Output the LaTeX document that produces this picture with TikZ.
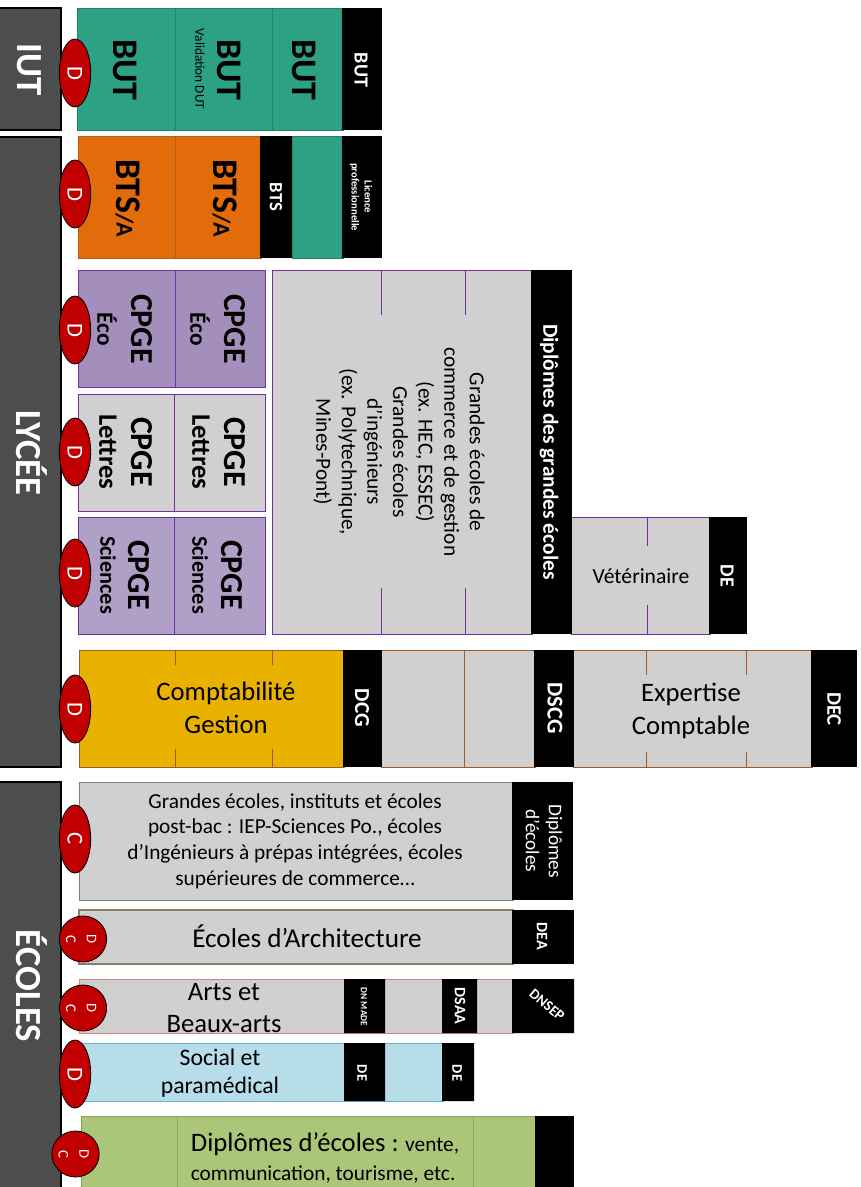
\documentclass[tikz,border=0pt]{standalone}
\usepackage{fontspec}
\usetikzlibrary{shapes.geometric}
\setmainfont{Carlito}
\definecolor{side}{HTML}{4D4D4D}
\definecolor{teal}{HTML}{2DA183}
\definecolor{tealdk}{HTML}{23806A}
\definecolor{orng}{HTML}{E36C0A}
\definecolor{orngdk}{HTML}{B45F14}
\definecolor{greyb}{HTML}{D0D0D0}
\definecolor{violetb}{HTML}{7030A0}
\definecolor{eco}{HTML}{A48FBC}
\definecolor{sci}{HTML}{B0A0C8}
\definecolor{gold}{HTML}{EAB200}
\definecolor{brwn}{HTML}{A5591C}
\definecolor{redb}{HTML}{C00000}
\definecolor{ltblue}{HTML}{B7DDE8}
\definecolor{blueb}{HTML}{5FB4CC}
\definecolor{grn}{HTML}{ABC678}
\definecolor{grndk}{HTML}{8AA552}
\definecolor{pinkb}{HTML}{D98080}
\definecolor{taupe}{HTML}{8C7B6B}
\newcommand{\fs}[1]{\fontsize{#1}{1.2\dimexpr#1pt\relax}\selectfont}
\tikzset{
  x=0.75pt,y=-0.75pt,
  sidebar/.style={fill=side,draw=black,line width=0.8pt},
  blk/.style={fill=black,draw=none},
  ovald/.style={ellipse,fill=redb,draw=black,line width=0.6pt,inner sep=0pt,text=white,
     minimum width=23.5pt,minimum height=51pt,font=\fs{17}},
  ovaldc/.style={ellipse,fill=redb,draw=black,line width=0.6pt,inner sep=0pt,text=white,
     minimum width=35.5pt,minimum height=34.5pt,font=\fs{11},align=center},
  vtxt/.style={rotate=-90,align=center,inner sep=0pt},
  bigb/.style={vtxt,font=\bfseries\fs{27}},
  whb/.style={vtxt,text=white,font=\bfseries\fs{15}},
  sidetxt/.style={vtxt,text=white,font=\bfseries\fs{27.6}},
  htxt/.style={align=center,inner sep=0pt},
  cp/.style={draw=violetb,line width=0.7pt},
  cb/.style={draw=brwn,line width=0.7pt},
}
\begin{document}
\begin{tikzpicture}
\useasboundingbox (0,0) rectangle (860,1187);
% sidebars
\draw[sidebar] (-2,8) rectangle (61,130);
\draw[sidebar] (-2,137) rectangle (61,767);
\draw[sidebar] (-2,782) rectangle (61,1190);
\node[sidetxt] (tiut) at (29,70) {IUT};
\node[sidetxt] (tlyc) at (32,453) {LYCÉE};
\node[sidetxt] (tecol) at (32,986) {ÉCOLES};
% BUT
\draw[fill=teal,draw=tealdk,line width=0.7pt] (77,8) rectangle (343,130);
\draw[tealdk,line width=0.7pt] (175,8)--(175,130) (272,8)--(272,130);
\fill[blk] (342,8) rectangle (382,130);
\node[bigb] (b1) at (125,70) {BUT};
\node[bigb] (b2) at (229.5,70) {BUT};
\node[vtxt,font=\fs{10}] (b2s) at (200,69) {Validation DUT};
\node[bigb] (b3) at (304,70) {BUT};
\node[whb] (b4) at (361,70) {BUT};
% BTS
\draw[fill=orng,draw=orngdk,line width=0.7pt] (78,136) rectangle (261,258);
\draw[orngdk,line width=0.7pt] (175,136)--(175,258);
\draw[fill=teal,draw=tealdk,line width=0.7pt] (292,136) rectangle (343,258);
\fill[blk] (260,136) rectangle (292,258);
\fill[blk] (342,136) rectangle (382,258);
\node[vtxt,font=\bfseries\fs{27}] (s1) at (128,198) {BTS\fs{18}/A};
\node[vtxt,font=\bfseries\fs{27}] (s2) at (225,198) {BTS\fs{18}/A};
\node[whb,font=\bfseries\fs{14}] (s3) at (276,197) {BTS};
\node[vtxt,text=white,font=\bfseries\fs{8}] (s4) at (361,197) {Licence\\professionnelle};
% CPGE
\draw[cp,fill=eco] (78,270) rectangle (265,387); \draw[cp] (175,270)--(175,387);
\draw[cp,fill=greyb] (78,394) rectangle (265,511); \draw[cp] (174,394)--(174,511);
\draw[cp,fill=sci] (78,517) rectangle (265,634); \draw[cp] (174,517)--(174,634);
\foreach \n/\x/\y/\t/\sx/\fsz in {
 a/141.5/329/Éco/107/17.5,b/234.5/329/Éco/200/17.5,
 c/141.5/452/Lettres/108/20,d/234.5/452/Lettres/201/20,
 e/139/575/Sciences/108/16.7,f/231.5/575/Sciences/200/16.7}{
  \node[bigb,font=\bfseries\fs{24}] (cp\n) at (\x,\y) {CPGE};
  \node[vtxt,font=\bfseries\fs{\fsz}] (cps\n) at (\sx,\y) {\t};
}
% Grandes ecoles
\draw[cp,fill=greyb] (272,270) rectangle (532,634);
\draw[cp] (381,270)--(381,315) (465,270)--(465,315) (381,588)--(381,634) (465,588)--(465,634);
\draw[cp,fill=greyb] (571,517) rectangle (710,634);
\draw[cp] (647,517)--(647,546) (647,605)--(647,634);
\fill[blk] (531,270) rectangle (572,634);
\fill[blk] (709,517) rectangle (747,634);
\node[vtxt,font=\fs{16}] (ge) at (399,452) {Grandes écoles de\\commerce et de gestion\\(ex. HEC, ESSEC)\\Grandes écoles\\d’ingénieurs\\(ex. Polytechnique,\\Mines-Pont)};
\node[whb,font=\bfseries\fs{16.1}] (gd) at (549,452) {Diplômes des grandes écoles};
\node[htxt,font=\fs{16.2}] (vet) at (641,576) {Vétérinaire};
\node[whb] (de1) at (727,576) {DE};
% Compta
\draw[cb,fill=gold] (79,650) rectangle (344,767);
\draw[cb] (175,650)--(175,665) (272,650)--(272,665) (175,749)--(175,767) (272,749)--(272,767);
\draw[cb,fill=greyb] (381,650) rectangle (535,767);
\draw[cb] (464,650)--(464,767);
\draw[cb,fill=greyb] (573,650) rectangle (812,767);
\draw[cb] (646,650)--(646,675) (746,650)--(746,675) (646,752)--(646,767) (746,752)--(746,767);
\fill[blk] (343,650) rectangle (382,767);
\fill[blk] (534,650) rectangle (574,767);
\fill[blk] (811,650) rectangle (857,767);
\node[htxt,font=\fs{20}] (cg) at (226,708) {Comptabilité\\[1pt]Gestion};
\node[whb,font=\bfseries\fs{16}] (dcg) at (362,708) {DCG};
\node[whb,font=\bfseries\fs{17}] (dscg) at (555,708) {DSCG};
\node[htxt,font=\fs{20}] (ec) at (691,711) {Expertise\\[1pt]Comptable};
\node[whb,font=\bfseries\fs{15.5}] (dec) at (834,709) {DEC};
% Ecoles
\draw[fill=greyb,draw=gray,line width=0.7pt] (79,782) rectangle (513,900);
\fill[blk] (512,782) rectangle (573,900);
\node[htxt,font=\fs{16}] (gr) at (295,841) {Grandes écoles, instituts et écoles\\post-bac : IEP-Sciences Po., écoles\\d’Ingénieurs à prépas intégrées, écoles\\supérieures de commerce…};
\node[vtxt,text=white,font=\fs{14.5}] (dpe) at (544,841) {Diplômes\\d’écoles};
\draw[fill=greyb,draw=taupe,line width=0.9pt] (79,910) rectangle (513,964);
\fill[blk] (512,910) rectangle (574,964);
\node[htxt,font=\fs{20.4}] (ar) at (307,936.5) {Écoles d’Architecture};
\node[whb,font=\bfseries\fs{12}] (dea) at (542,936) {DEA};
\draw[fill=greyb,draw=pinkb,line width=0.7pt] (79,979) rectangle (513,1033);
\fill[blk] (344,979) rectangle (385,1033) (442,979) rectangle (477,1033) (512,979) rectangle (574,1033);
\node[htxt,font=\fs{20}] (ba) at (224,1008.5) {Arts et\\Beaux-arts};
\node[vtxt,text=white,font=\bfseries\fs{7}] (dnm) at (364,1007) {DN MADE};
\node[whb,font=\bfseries\fs{12}] (dsaa) at (460,1006) {DSAA};
\node[text=white,rotate=-40,inner sep=0pt,font=\bfseries\fs{11}] (dns) at (547,1005) {DNSEP};
\draw[fill=ltblue,draw=blueb,line width=0.7pt] (79,1043) rectangle (443,1101);
\fill[blk] (344,1043) rectangle (385,1101) (442,1043) rectangle (474,1101);
\node[htxt,font=\fs{17.8}] (so) at (220,1073) {Social et\\paramédical};
\node[whb,font=\bfseries\fs{11}] (de2) at (362,1073) {DE};
\node[whb,font=\bfseries\fs{11}] (de3) at (457,1073) {DE};
\draw[fill=grn,draw=grndk,line width=0.7pt] (81,1116) rectangle (536,1190);
\draw[grndk,line width=0.7pt] (177,1116)--(177,1190) (473,1116)--(473,1190);
\fill[blk] (535,1116) rectangle (574,1190);
\node[htxt,font=\fs{16},align=left] (dp) at (325,1158) {{\fs{20}Diplômes d’écoles :} vente,\\[2pt]communication, tourisme, etc.};
% ovals
\foreach \n/\y/\t in {o1/73/D,o2/194/D,o3/330/D,o4/452/D,o5/573/D,o6/709/D,o7/839/C,o8/1074/D}{
  \node[ovald] (\n) at (75,\y) {\rotatebox{-90}{\t}};
}
\foreach \n/\x/\y in {o9/83/939,o10/83/1008,o11/75.5/1154}{
  \node[ovaldc] (\n) at (\x,\y) {\makebox[0pt][c]{\kern-4.5pt\rotatebox{-90}{\begin{tabular}{@{}c@{}}D\\[2.5pt]C\end{tabular}}}};
}
\end{tikzpicture}
\end{document}
